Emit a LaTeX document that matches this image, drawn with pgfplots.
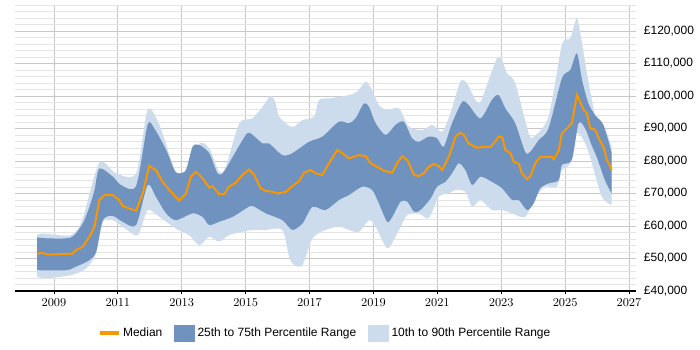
\documentclass[border=0pt]{standalone}
\usepackage{fontspec}
\setmainfont{Liberation Sans}
\usepackage{pgfplots}
\pgfplotsset{compat=1.18}
\usepgfplotslibrary{fillbetween}
\definecolor{darkband}{RGB}{112,146,190}
\definecolor{lightband}{RGB}{204,220,236}
\definecolor{medorange}{RGB}{250,150,0}
\definecolor{majgrid}{RGB}{200,200,200}
\definecolor{mingrid}{RGB}{228,228,228}
\begin{document}
\fontsize{9pt}{11pt}\selectfont
\begin{tikzpicture}
\begin{axis}[
  scale only axis,
  width=466pt, height=214.5pt,
  xmin=2007.78, xmax=2027.23,
  ymin=40, ymax=128,
  axis x line*=bottom,
  axis y line*=right,
  y axis line style={draw=none},
  x axis line style={black, line width=0.9pt},
  xtick={2009,2011,...,2027},
  xticklabel style={/pgf/number format/1000 sep={}, font=\fontsize{9pt}{11pt}\selectfont},
  xtick align=outside,
  xtick style={black, line width=0.6pt},
  major tick length=2.5pt,
  ytick={40,50,...,120},
  minor ytick={42,44,...,128},
  ytick style={draw=none},
  minor tick style={draw=none},
  yticklabel pos=right,
  yticklabel={£\pgfmathprintnumber[fixed,precision=0,assume math mode=true]{\tick},000},
  yticklabel style={font=\fontsize{9pt}{11pt}\selectfont, xshift=2.5pt},
  grid=both,
  xmajorgrids=true,
  xminorgrids=false,
  major grid style={majgrid, line width=0.6pt},
  minor grid style={mingrid, line width=0.6pt},
  legend columns=3,
  legend style={at={(0.5,-0.147)}, anchor=center, draw=none, fill=none,
    font=\fontsize{9pt}{11pt}\selectfont,
    /tikz/every even column/.append style={column sep=7pt}},
  legend cell align=left,
  band/.style={draw=none, forget plot, smooth, tension=0.45},
]
% 10th to 90th percentile band
\addplot[band, name path=p90] table {
x y
2008.47 57.2
2008.65 57.7
2009.54 57.2
2009.9 62.4
2010.42 79.5
2010.94 76.2
2011.57 76.2
2011.93 95.7
2012.3 91.1
2012.82 76.2
2013.03 76.7
2013.23 76.7
2013.55 85.4
2013.86 83.9
2014.17 76.7
2014.38 78.2
2014.8 91.6
2015.21 93.1
2015.53 96.7
2015.79 100.1
2015.94 97.7
2016.05 93.6
2016.36 90.8
2016.52 90.6
2016.78 92.6
2017.14 93.6
2017.3 98.8
2017.66 99.3
2018.23 100.3
2018.49 101.3
2018.76 104.4
2018.96 101.8
2019.17 97.2
2019.43 95.7
2019.8 96.2
2020.11 90.6
2020.53 89.5
2020.84 91.1
2021.15 89.0
2021.41 94.7
2021.72 104.4
2021.93 103.9
2022.19 98.8
2022.35 98.2
2022.61 104.9
2022.87 111.6
2023.03 111.0
2023.18 107.0
2023.44 103.9
2023.86 88.5
2024.02 87.5
2024.48 93.6
2024.9 115.7
2025.16 117.7
2025.37 123.9
2025.53 116.2
2025.73 104.4
2026.0 91.6
2026.26 89.5
2026.46 84.4
};
\addplot[band, name path=p10] table {
x y
2008.47 44.4
2008.76 43.9
2009.54 44.9
2010.01 47.0
2010.32 51.6
2010.53 61.3
2010.84 61.8
2011.15 59.8
2011.62 57.2
2011.93 64.9
2012.3 62.8
2012.85 59.0
2013.23 57.2
2013.55 54.1
2013.86 56.7
2014.17 55.2
2014.48 57.2
2014.9 58.2
2015.21 58.8
2015.63 58.8
2016.15 58.8
2016.36 50.5
2016.52 48.0
2016.78 48.0
2017.09 56.2
2017.5 58.8
2017.92 59.8
2018.23 58.8
2018.55 58.2
2018.86 61.8
2019.07 59.8
2019.43 53.1
2019.69 56.7
2020.06 63.4
2020.42 63.9
2020.73 62.4
2021.05 69.0
2021.36 70.0
2021.57 71.1
2021.88 70.5
2022.09 65.9
2022.35 68.0
2022.71 64.9
2023.03 64.9
2023.34 63.9
2023.75 62.8
2024.07 69.0
2024.38 72.1
2024.74 72.1
2024.9 77.2
2025.16 79.3
2025.37 88.5
2025.63 85.4
2025.84 79.3
2026.15 69.0
2026.46 66.4
};
\addplot[fill=lightband, draw=none, forget plot] fill between[of=p90 and p10];
% 25th to 75th percentile band
\addplot[band, name path=p75] table {
x y
2008.47 56.5
2008.81 56.2
2009.54 56.5
2009.9 60.8
2010.11 65.9
2010.27 71.1
2010.42 77.7
2010.84 75.2
2011.1 72.6
2011.57 72.3
2011.93 91.1
2012.14 90.0
2012.51 83.4
2012.77 77.2
2012.92 76.2
2013.13 77.2
2013.34 84.4
2013.55 84.9
2013.86 82.4
2014.12 76.2
2014.28 76.2
2014.48 79.3
2014.9 86.4
2015.11 88.7
2015.53 85.4
2015.73 85.4
2016.15 81.8
2016.46 82.4
2016.98 85.9
2017.4 87.5
2017.92 92.1
2018.23 91.6
2018.44 93.1
2018.7 97.7
2018.86 96.7
2019.07 91.6
2019.38 88.0
2019.69 91.1
2019.95 92.1
2020.21 87.0
2020.42 85.9
2020.73 87.5
2020.99 87.0
2021.2 84.4
2021.46 91.6
2021.78 98.2
2021.98 97.2
2022.35 93.1
2022.71 98.8
2022.92 100.3
2023.13 96.2
2023.44 91.6
2023.75 82.8
2023.91 82.8
2024.17 86.4
2024.48 90.0
2024.9 105.4
2025.16 108.0
2025.37 113.1
2025.53 104.9
2025.73 97.7
2025.94 94.1
2026.2 91.1
2026.46 82.4
};
\addplot[band, name path=p25] table {
x y
2008.47 46.4
2009.38 46.4
2009.69 47.5
2010.11 49.5
2010.32 52.1
2010.53 61.8
2010.84 63.1
2011.15 61.3
2011.57 60.3
2011.93 72.6
2012.19 69.0
2012.51 63.9
2012.82 61.8
2013.34 63.9
2013.65 62.8
2013.86 60.3
2014.17 61.3
2014.59 62.8
2015.01 65.4
2015.21 66.2
2015.63 63.9
2016.15 61.8
2016.46 58.8
2016.78 60.8
2017.09 65.9
2017.5 64.9
2017.92 68.0
2018.23 69.5
2018.65 72.1
2018.96 71.1
2019.17 67.0
2019.43 61.3
2019.59 62.8
2019.85 67.5
2020.06 67.5
2020.27 64.4
2020.47 64.9
2020.79 68.5
2020.99 72.1
2021.25 73.6
2021.46 76.2
2021.67 79.3
2021.88 77.2
2022.09 72.6
2022.35 75.2
2022.71 73.6
2023.03 71.6
2023.34 68.0
2023.55 68.0
2023.81 64.9
2024.02 67.0
2024.22 71.6
2024.48 73.1
2024.8 74.1
2024.9 78.8
2025.21 80.3
2025.42 91.6
2025.63 90.0
2025.81 85.4
2026.0 81.0
2026.25 74.0
2026.46 70.0
};
\addplot[fill=darkband, draw=none, forget plot] fill between[of=p75 and p25];
% Median
\addplot[medorange, line width=1.5pt, forget plot] table {
x y
2008.47 51.4
2008.6 51.8
2008.81 51.2
2009.38 51.4
2009.59 51.5
2009.69 52.6
2009.9 53.6
2010.11 56.7
2010.27 59.8
2010.42 68.0
2010.58 69.5
2010.84 69.5
2011.05 68.0
2011.15 66.1
2011.57 64.7
2011.78 70.0
2011.98 78.5
2012.19 77.2
2012.4 73.6
2012.61 71.1
2012.92 67.8
2013.13 70.0
2013.29 75.2
2013.44 76.7
2013.65 74.7
2013.86 71.8
2013.96 72.3
2014.17 69.8
2014.33 69.8
2014.48 72.1
2014.69 73.3
2014.9 75.7
2015.11 77.4
2015.27 75.7
2015.47 71.6
2015.63 70.8
2015.84 70.5
2016.0 70.0
2016.26 70.5
2016.46 72.3
2016.67 73.8
2016.83 76.4
2017.04 77.2
2017.19 76.2
2017.4 75.7
2017.61 79.3
2017.87 83.4
2018.03 82.4
2018.23 80.8
2018.55 81.8
2018.76 81.5
2018.91 79.3
2019.12 78.2
2019.33 77.0
2019.59 76.4
2019.74 79.3
2019.9 81.5
2020.06 80.3
2020.16 78.2
2020.27 75.7
2020.42 75.4
2020.58 76.2
2020.73 78.2
2020.89 79.1
2021.05 78.4
2021.15 77.2
2021.36 81.3
2021.57 87.5
2021.72 88.7
2021.83 88.0
2021.98 85.4
2022.24 84.1
2022.51 84.4
2022.66 84.3
2022.82 86.1
2022.92 87.5
2023.03 87.3
2023.13 83.4
2023.29 82.4
2023.39 79.8
2023.55 79.1
2023.65 76.2
2023.81 74.4
2023.91 75.2
2024.07 79.3
2024.22 81.3
2024.59 81.3
2024.64 80.5
2024.8 83.2
2024.9 88.5
2025.21 91.6
2025.37 100.3
2025.47 98.2
2025.58 95.7
2025.68 94.8
2025.79 90.0
2025.94 89.7
2026.05 87.0
2026.2 84.4
2026.31 80.3
2026.46 77.2
};
\addlegendimage{legend image code/.code={\draw[medorange, line width=2.5pt] (0pt,0pt) -- (14pt,0pt);}}
\addlegendentry{Median}
\addlegendimage{legend image code/.code={\fill[darkband] (0pt,-6pt) rectangle (15pt,6pt);}}
\addlegendentry{25th to 75th Percentile Range}
\addlegendimage{legend image code/.code={\fill[lightband] (0pt,-6pt) rectangle (15pt,6pt);}}
\addlegendentry{10th to 90th Percentile Range}
\end{axis}
\path (-11.25pt,-44.25pt) (513.75pt,218.25pt);
\end{tikzpicture}
\end{document}
